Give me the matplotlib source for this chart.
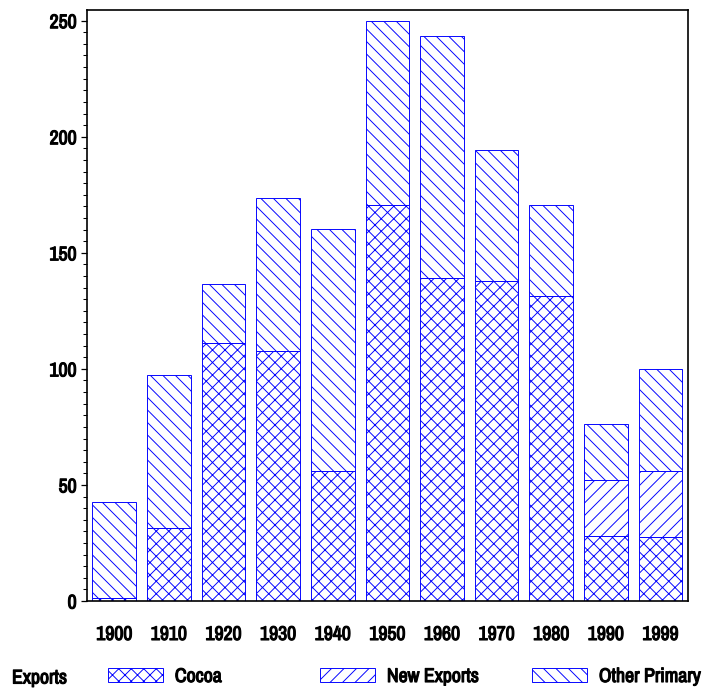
import numpy as np
import matplotlib
matplotlib.use("Agg")
from matplotlib import pyplot as plt
from matplotlib import patheffects as pe

years = ["1900", "1910", "1920", "1930", "1940", "1950", "1960", "1970", "1980", "1990", "1999"]
cocoa = [1.5, 31.3, 111.0, 107.5, 56.0, 170.5, 139.0, 138.0, 131.5, 28.0, 27.5]
new_exports = [0, 0, 0, 0, 0, 0, 0, 0, 0, 24.0, 28.5]
other_primary = [41.2, 66.2, 25.5, 66.0, 104.2, 79.5, 104.3, 56.4, 38.9, 24.2, 44.0]
series = ["Cocoa", "New Exports", "Other Primary"]
hatches = ["xx", "//", "\\\\"]

DPI = 75
FS = 19
plt.rcParams['font.family'] = ['Archivo Narrow', 'DejaVu Sans']
plt.rcParams['hatch.color'] = '#0000ff'
plt.rcParams['hatch.linewidth'] = 0.9
bold = [pe.withStroke(linewidth=1.1, foreground='black')]

fig = plt.figure(figsize=(704 / DPI, 689 / DPI), dpi=DPI)
ax = fig.add_axes([0.1236, 0.1277, 0.8534, 0.8578])

x = np.arange(len(years))
bottom = np.zeros(len(years))
bars = []
for name, vals, h in zip(series, [cocoa, new_exports, other_primary], hatches):
    vals = np.array(vals, dtype=float)
    b = ax.bar(x, vals, 0.8, bottom=bottom, color='white', edgecolor='#0000ff',
               linewidth=0.9, hatch=h, label=name)
    bars.append(b)
    bottom = bottom + vals

ax.set_xlim(-0.5, 10.5)
ax.set_ylim(0, 254.6)
ax.set_xticks(x)
ax.set_xticklabels(years)
ax.set_yticks([0, 50, 100, 150, 200, 250])
ax.set_yticks(np.arange(0, 255, 5), minor=True)
ax.tick_params(axis='x', length=0, pad=23, labelsize=FS)
ax.tick_params(axis='y', which='major', length=6, width=1.2, pad=4, labelsize=FS)
ax.tick_params(axis='y', which='minor', length=3.5, width=1.0)
for lab in ax.get_xticklabels() + ax.get_yticklabels():
    lab.set_path_effects(bold)
for s in ax.spines.values():
    s.set_linewidth(1.6)

fig.text(12 / 704, 1 - 678 / 689, "Exports", fontsize=FS, va='center', ha='left',
         path_effects=bold)
xs = [108, 320, 532]
for b, name, px in zip(bars, series, xs):
    leg = fig.legend(handles=[b], labels=[name], loc='center left',
                     bbox_to_anchor=(px / 704, 1 - 676.5 / 689), frameon=False,
                     fontsize=FS, handlelength=2.78, handleheight=0.72,
                     handletextpad=0.6, borderpad=0, borderaxespad=0)
    for t in leg.get_texts():
        t.set_path_effects(bold)

fig.savefig("out.png", dpi=DPI)
